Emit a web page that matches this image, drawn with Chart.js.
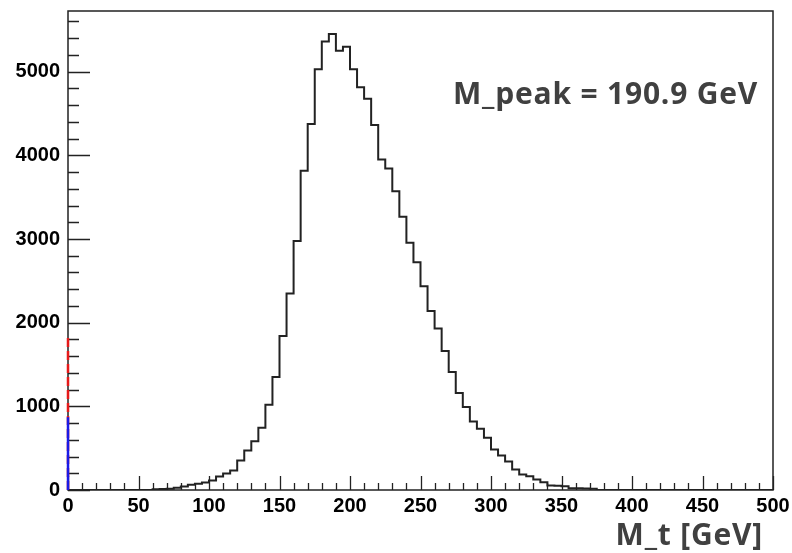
<!DOCTYPE html>
<html>
<head>
<meta charset="UTF-8">
<title>M_t</title>
<script src="https://cdn.jsdelivr.net/npm/chart.js"></script>
<style>
    body { margin: 0; background: #fff; }
    #wrap { position: relative; width: 792px; height: 553px; }
    .lbl {
        position: absolute;
        font-family: "Open Sans", sans-serif;
        font-weight: bold;
        font-size: 30px;
        letter-spacing: 0.8px;
        color: #404040;
        white-space: nowrap;
        line-height: 1;
    }
</style>
</head>
<body>
<div id="wrap">
    <canvas id="c" width="792" height="553"></canvas>
    <div class="lbl" id="peak" style="left:453px; top:78px;">M_peak = 190.9 GeV</div>
    <div class="lbl" id="xtitle" style="right:29px; top:519px;">M_t [GeV]</div>
</div>
<script>
    // histogram: 100 bins of 5 GeV from 0 to 500
    const binLow = 0;
    const binWidth = 5;
    const counts = [
        0, 0, 0, 0, 0, 0, 0, 0, 0, 0,
        0, 0, 9, 12, 15, 26, 42, 62, 74, 90,
        114, 162, 198, 233, 353, 473, 582, 744, 1020, 1350,
        1841, 2348, 2977, 3815, 4374, 5029, 5359, 5451, 5251, 5299,
        5029, 4813, 4677, 4362, 3951, 3844, 3572, 3265, 2954, 2723,
        2435, 2140, 1929, 1661, 1410, 1159, 991, 820, 732, 624,
        485, 413, 341, 245, 185, 165, 126, 93, 55, 50,
        45, 22, 20, 18, 14, 0, 0, 0, 0, 0,
        0, 0, 0, 0, 0, 0, 0, 0, 0, 0,
        0, 0, 0, 0, 0, 0, 0, 0, 0, 0
    ];
    // the two narrow spikes sitting at x = 0
    const redSpike = [0, 1830];
    const blueSpike = [0, 870];

    // labelled ticks
    const xTicks = [0, 50, 100, 150, 200, 250, 300, 350, 400, 450, 500];
    const yTicks = [0, 1000, 2000, 3000, 4000, 5000];
    const xMin = 0, xMax = 500, xMinor = 10;
    const yMin = 0, yMax = 5725, yMinor = 200;

    // step points at each bin's left edge, plus the last right edge
    const histPoints = counts.map((v, i) => ({ x: binLow + i * binWidth, y: v }));
    histPoints.push({ x: binLow + counts.length * binWidth, y: counts[counts.length - 1] });

    // frame + inward ROOT-style ticks, drawn under the histograms
    const frameTicks = {
        id: 'frameTicks',
        beforeDatasetsDraw(chart) {
            const { ctx, chartArea: a, scales: { x, y } } = chart;
            ctx.save();
            ctx.strokeStyle = '#222';
            ctx.lineWidth = 1.5;
            ctx.strokeRect(a.left, a.top, a.right - a.left, a.bottom - a.top);
            ctx.lineWidth = 1.3;
            ctx.beginPath();
            for (let v = xMin; v <= xMax; v += xMinor) {
                const px = Math.round(x.getPixelForValue(v)) + 0.5;
                const len = xTicks.includes(v) ? 14 : 7;
                ctx.moveTo(px, a.bottom);
                ctx.lineTo(px, a.bottom - len);
            }
            for (let v = yMin; v <= yMax; v += yMinor) {
                const py = Math.round(y.getPixelForValue(v)) + 0.5;
                const len = yTicks.includes(v) ? 22 : 11;
                ctx.moveTo(a.left, py);
                ctx.lineTo(a.left + len, py);
            }
            ctx.stroke();
            ctx.restore();
        }
    };

    const tickFont = { family: '"Liberation Sans", Arial, sans-serif', size: 20, weight: 'bold' };

    new Chart(document.getElementById('c'), {
        type: 'line',
        data: {
            datasets: [
                {
                    data: blueSpike.map(v => ({ x: 0, y: v })),
                    borderColor: '#1a1ae6',
                    borderWidth: 2.5,
                    pointRadius: 0,
                    clip: false
                },
                {
                    data: redSpike.map(v => ({ x: 0, y: v })),
                    borderColor: '#e61a1a',
                    borderWidth: 2.5,
                    borderDash: [9, 4],
                    pointRadius: 0,
                    clip: false
                },
                {
                    data: histPoints,
                    stepped: 'before',
                    borderColor: '#222',
                    borderWidth: 2,
                    pointRadius: 0,
                    fill: false
                }
            ]
        },
        options: {
            responsive: false,
            animation: false,
            devicePixelRatio: 1,
            layout: { padding: { top: 11, right: 19, left: 0, bottom: 0 } },
            plugins: { legend: { display: false }, tooltip: { enabled: false } },
            scales: {
                x: {
                    type: 'linear',
                    min: xMin,
                    max: xMax,
                    grid: { display: false, drawTicks: false },
                    border: { display: false },
                    ticks: { color: '#000', font: tickFont, padding: 4, maxRotation: 0, autoSkip: false },
                    afterBuildTicks(s) { s.ticks = xTicks.map(v => ({ value: v })); },
                    afterFit(s) { s.height = 63; s.paddingLeft = 0; s.paddingRight = 0; }
                },
                y: {
                    type: 'linear',
                    min: yMin,
                    max: yMax,
                    grid: { display: false, drawTicks: false },
                    border: { display: false },
                    ticks: { color: '#000', font: tickFont, padding: 8, autoSkip: false, callback: v => String(v) },
                    afterBuildTicks(s) { s.ticks = yTicks.map(v => ({ value: v })); },
                    afterFit(s) { s.width = 68; s.paddingTop = 0; s.paddingBottom = 0; }
                }
            }
        },
        plugins: [frameTicks]
    });
</script>
</body>
</html>
